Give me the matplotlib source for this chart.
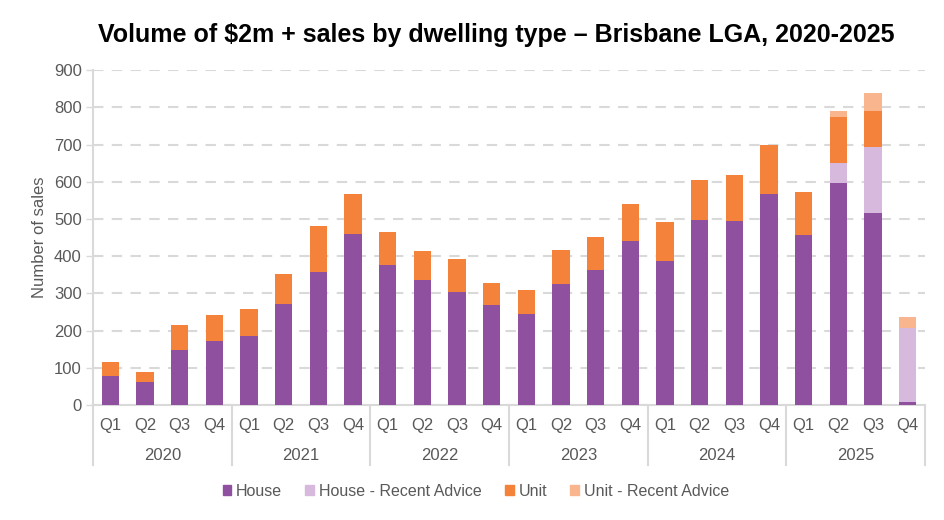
import matplotlib.pyplot as plt
import matplotlib.transforms as mtransforms
from matplotlib.patches import Patch
import numpy as np

plt.rcParams['font.family'] = ['Liberation Sans', 'DejaVu Sans']

# data
years = ['2020', '2021', '2022', '2023', '2024', '2025']
quarters = ['Q1', 'Q2', 'Q3', 'Q4']
house = [78, 63, 147, 171, 185, 271, 359, 459, 376, 336, 304, 269,
         245, 325, 363, 442, 387, 497, 494, 566, 457, 598, 515, 9]
house_recent = [0] * 21 + [52, 178, 197]
unit = [37, 27, 69, 70, 74, 80, 121, 108, 89, 78, 88, 59,
        64, 92, 88, 98, 104, 107, 124, 132, 115, 123, 97, 0]
unit_recent = [0] * 21 + [17, 48, 32]

c_house = '#9050A0'
c_house_ra = '#D7B9DD'
c_unit = '#F5823B'
c_unit_ra = '#F9B58E'
grey = '#595959'
line_c = '#D9D9D9'

fig = plt.figure(figsize=(9.44, 5.2), dpi=100)
ax = fig.add_axes([0.0985, 0.221, 0.8815, 0.644])

x = np.arange(len(house))
h = np.array(house)
hr = np.array(house_recent)
u = np.array(unit)
ur = np.array(unit_recent)
w = 0.5
ax.bar(x, h, w, color=c_house, zorder=3)
ax.bar(x, hr, w, bottom=h, color=c_house_ra, zorder=3)
ax.bar(x, u, w, bottom=h + hr, color=c_unit, zorder=3)
ax.bar(x, ur, w, bottom=h + hr + u, color=c_unit_ra, zorder=3)

ax.set_xlim(-0.5, len(house) - 0.5)
ax.set_ylim(0, 900)
ax.set_yticks(range(0, 901, 100))
ax.yaxis.grid(True, color=line_c, linestyle=(0, (5, 4)), linewidth=1.5, zorder=0)
ax.tick_params(axis='y', colors=grey, labelsize=12, length=5, width=1, color=line_c, pad=3)
ax.tick_params(axis='x', length=0, labelbottom=False)
for s in ['top', 'right']:
    ax.spines[s].set_visible(False)
for s in ['left', 'bottom']:
    ax.spines[s].set_color(line_c)
    ax.spines[s].set_linewidth(1.5)
ax.set_ylabel('Number of sales', color=grey, fontsize=12, labelpad=5)

# two-level category axis
trans = mtransforms.blended_transform_factory(ax.transData, ax.transAxes)
for i in x:
    ax.text(i, -0.06, quarters[i % 4], transform=trans, ha='center', va='center',
            color=grey, fontsize=12)
for j, yr in enumerate(years):
    ax.text(j * 4 + 1.5, -0.15, yr, transform=trans, ha='center', va='center',
            color=grey, fontsize=12)
for k in range(len(years) + 1):
    ax.plot([k * 4 - 0.5] * 2, [0, -0.18], transform=trans, color=line_c,
            linewidth=1.5, clip_on=False)

fig.suptitle('Volume of $2m + sales by dwelling type \u2013 Brisbane LGA, 2020-2025',
             x=0.526, y=0.955, fontsize=18, fontweight='bold')

handles = [Patch(color=c_house, label='House'),
           Patch(color=c_house_ra, label='House - Recent Advice'),
           Patch(color=c_unit, label='Unit'),
           Patch(color=c_unit_ra, label='Unit - Recent Advice')]
leg = fig.legend(handles=handles, loc='center', bbox_to_anchor=(0.504, 0.055), ncol=4,
                 frameon=False, fontsize=11.5, handlelength=0.55, handleheight=0.55,
                 handletextpad=0.3, columnspacing=1.45)
for t in leg.get_texts():
    t.set_color(grey)

plt.savefig('out.png', dpi=100)
